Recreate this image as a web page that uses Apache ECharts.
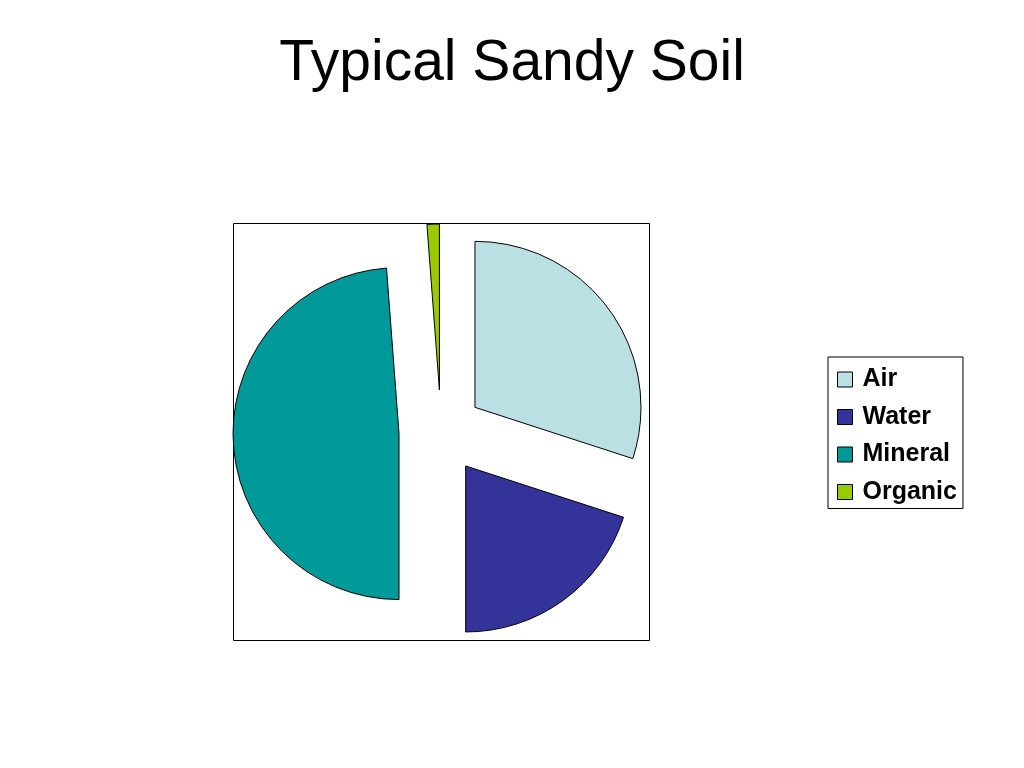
<!DOCTYPE html>
<html>
<head>
<meta charset="utf-8">
<script src="https://cdn.jsdelivr.net/npm/echarts@6/dist/echarts.min.js"></script>
<style>html,body{margin:0;padding:0;background:#fff}#c{width:1024px;height:768px}</style>
</head>
<body>
<div id="c"></div>
<script>
const categories = ['Air', 'Water', 'Mineral', 'Organic'];
const values = [30, 20, 48.8, 1.2];
const colors = ['#BBE0E3', '#333399', '#009999', '#99CC00'];

const chart = echarts.init(document.getElementById('c'), null, {renderer: 'canvas'});
chart.setOption({
  animation: false,
  backgroundColor: '#ffffff',
  title: {
    text: 'Typical Sandy Soil',
    left: 'center',
    top: 31,
    textStyle: {fontFamily: 'Liberation Sans, Arial, sans-serif', fontSize: 57, fontWeight: 'normal', color: '#000'}
  },
  graphic: [{
    type: 'rect',
    shape: {x: 233.5, y: 223.5, width: 416, height: 417},
    style: {fill: 'none', stroke: '#000', lineWidth: 1},
    silent: true, z: 0
  }],
  legend: {
    orient: 'vertical',
    left: 828, top: 357,
    padding: [10, 6, 4, 9],
    borderColor: '#000', borderWidth: 1,
    itemWidth: 15, itemHeight: 15, itemGap: 12.5,
    icon: 'rect',
    selectedMode: false,
    itemStyle: {borderColor: '#000', borderWidth: 1},
    textStyle: {fontFamily: 'Liberation Sans, Arial, sans-serif', fontSize: 25, fontWeight: 'bold', color: '#000', lineHeight: 25, padding: [0, 0, 0, 5]},
    data: categories
  },
  series: [{
    type: 'pie',
    center: [441, 432],
    radius: 166,
    startAngle: 90,
    clockwise: true,
    selectedMode: 'multiple',
    selectedOffset: 42,
    label: {show: false},
    labelLine: {show: false},
    emphasis: {disabled: true},
    itemStyle: {borderColor: '#000', borderWidth: 1},
    data: categories.map((n, i) => ({name: n, value: values[i], selected: true, itemStyle: {color: colors[i]}}))
  }]
});
</script>
</body>
</html>
